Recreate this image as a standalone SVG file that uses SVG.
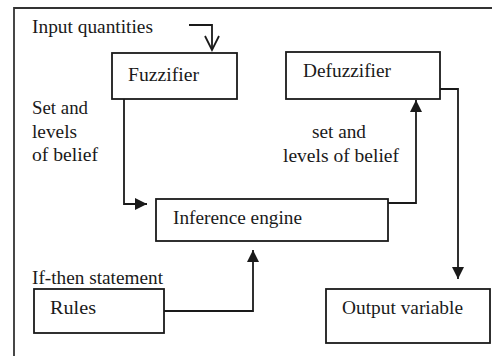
<svg xmlns="http://www.w3.org/2000/svg" width="492" height="356" viewBox="0 0 492 356">
  <style>
    .box { fill: #ffffff; stroke: #1a1a1a; stroke-width: 1.8; }
    .frame { fill: none; stroke: #333333; stroke-width: 1.8; }
    .wire { fill: none; stroke: #1a1a1a; stroke-width: 1.8; }
    .lbl { font-family: "Liberation Serif", "Times New Roman", serif; font-size: 19.5px; fill: #1a1a1a; }
  </style>
  <defs>
    <marker id="solid" markerUnits="userSpaceOnUse" markerWidth="13" markerHeight="13" refX="12" refY="6" orient="auto">
      <path d="M0,0 L12,6 L0,12 z" fill="#1a1a1a"/>
    </marker>
    <marker id="open" markerUnits="userSpaceOnUse" markerWidth="18" markerHeight="18" refX="15" refY="8" orient="auto">
      <path d="M1,1 L15,8 L1,15" fill="none" stroke="#1a1a1a" stroke-width="1.8"/>
    </marker>
  </defs>

  <rect width="492" height="356" fill="#ffffff"/>
  <!-- outer frame (top and left edges) -->
  <path class="frame" d="M14,356 V8 H492"/>

  <!-- free labels -->
  <text class="lbl" x="32" y="33" textLength="121" lengthAdjust="spacingAndGlyphs">Input quantities</text>
  <text class="lbl" x="32" y="114" textLength="56" lengthAdjust="spacingAndGlyphs">Set and</text>
  <text class="lbl" x="32" y="138" textLength="45" lengthAdjust="spacingAndGlyphs">levels</text>
  <text class="lbl" x="32" y="161" textLength="66" lengthAdjust="spacingAndGlyphs">of belief</text>
  <text class="lbl" x="312" y="138" textLength="54" lengthAdjust="spacingAndGlyphs">set and</text>
  <text class="lbl" x="283" y="162" textLength="116" lengthAdjust="spacingAndGlyphs">levels of belief</text>
  <text class="lbl" x="32" y="284" textLength="131" lengthAdjust="spacingAndGlyphs">If-then statement</text>

  <g id="connectors">
    <path class="wire" d="M189,25 H212 V50" marker-end="url(#open)"/>
    <path class="wire" d="M124,99 V204 H147" marker-end="url(#solid)"/>
    <path class="wire" d="M388,203 H416 V100" marker-end="url(#solid)"/>
    <path class="wire" d="M440,89 H458 V279" marker-end="url(#solid)"/>
    <path class="wire" d="M164,311 H253 V250" marker-end="url(#solid)"/>
  </g>

  <g id="fuzzifier">
    <rect class="box" x="112" y="53" width="125" height="46"/>
    <text class="lbl" x="128" y="81" textLength="71" lengthAdjust="spacingAndGlyphs">Fuzzifier</text>
  </g>

  <g id="defuzzifier">
    <rect class="box" x="286" y="52" width="154" height="47"/>
    <text class="lbl" x="303" y="77" textLength="88" lengthAdjust="spacingAndGlyphs">Defuzzifier</text>
  </g>

  <g id="inference-engine">
    <rect class="box" x="156" y="199" width="232" height="42"/>
    <text class="lbl" x="173" y="224" textLength="129" lengthAdjust="spacingAndGlyphs">Inference engine</text>
  </g>

  <g id="rules">
    <rect class="box" x="34" y="289" width="130" height="44"/>
    <text class="lbl" x="50" y="314" textLength="46" lengthAdjust="spacingAndGlyphs">Rules</text>
  </g>

  <g id="output-variable">
    <rect class="box" x="326" y="289" width="164" height="54"/>
    <text class="lbl" x="342" y="314" textLength="121" lengthAdjust="spacingAndGlyphs">Output variable</text>
  </g>
</svg>
